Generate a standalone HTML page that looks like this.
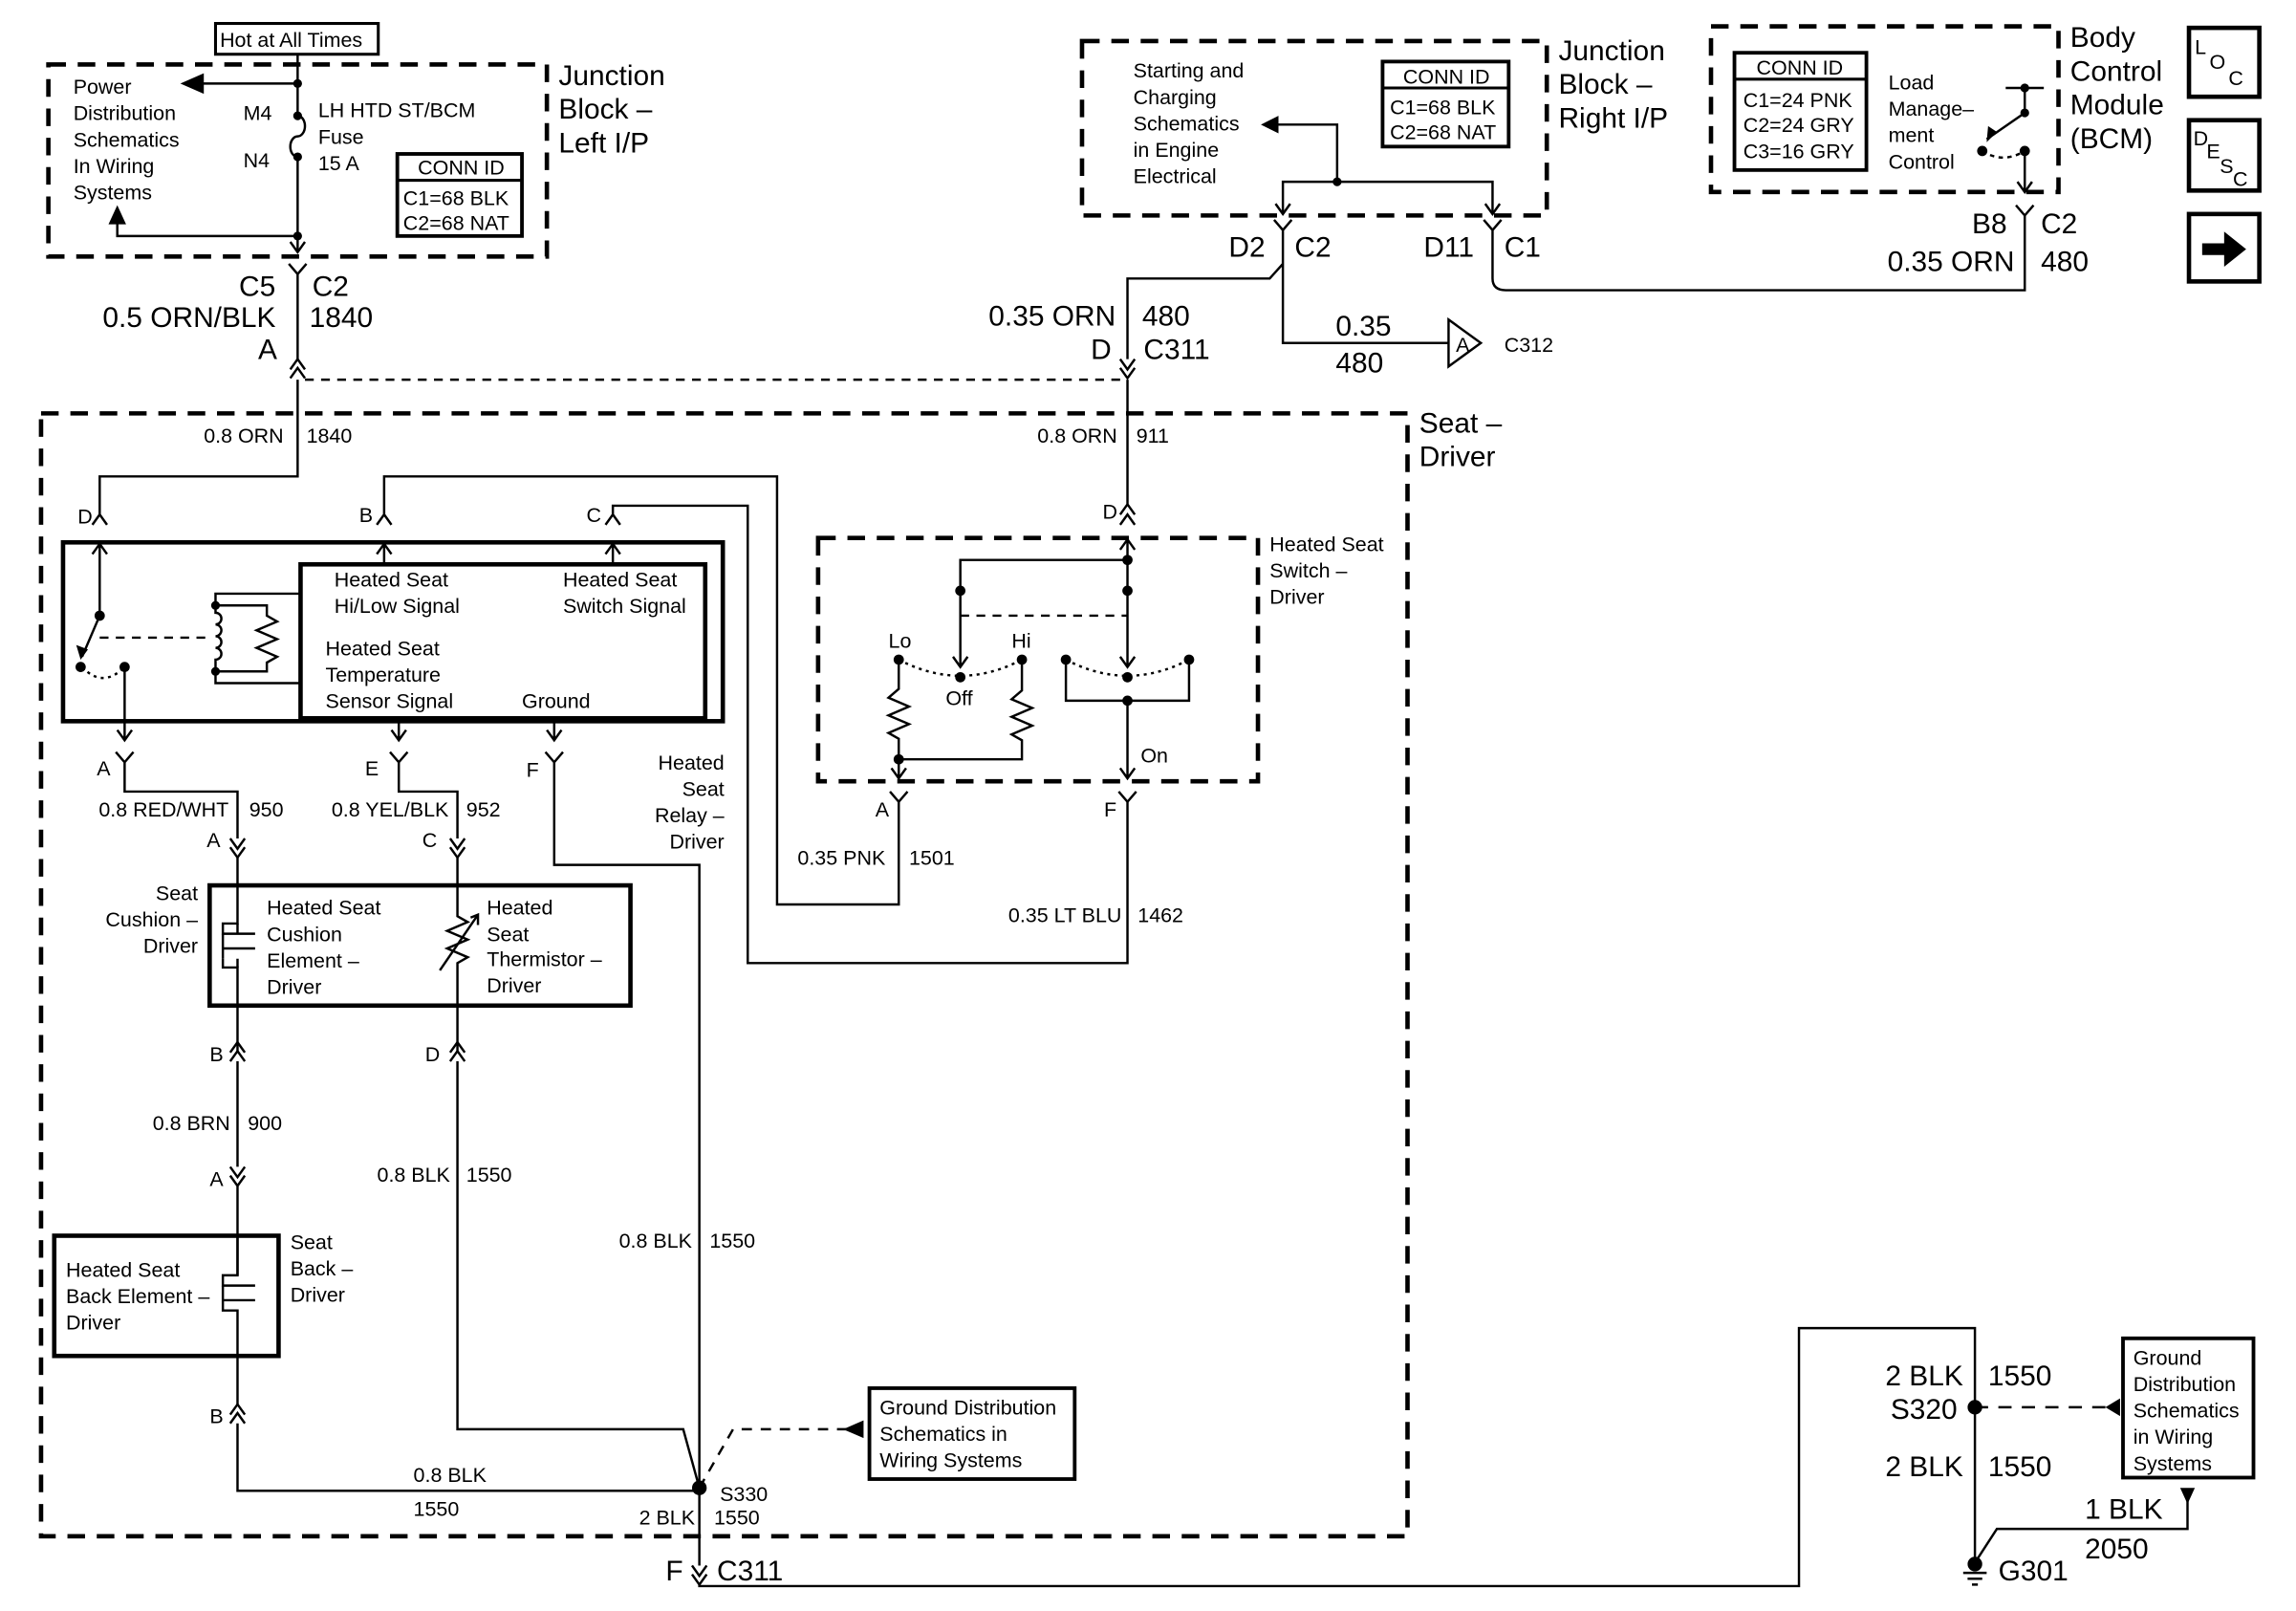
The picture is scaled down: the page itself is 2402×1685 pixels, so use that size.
<!DOCTYPE html>
<html><head><meta charset="utf-8"><style>
html,body{margin:0;padding:0;background:#fff;}
svg{display:block;}
text{font-family:"Liberation Sans Narrow","Liberation Sans",sans-serif;fill:#000;}
.s{font-size:14px;}
.m{font-size:15px;}
.l{font-size:19.5px;}
</style></head><body>
<svg width="2402" height="1685" viewBox="0 0 1566 1099" preserveAspectRatio="none" xmlns="http://www.w3.org/2000/svg">
<rect width="1566" height="1099" fill="#fff"/>
<g fill="none" stroke="#000" stroke-width="1.6">
<rect x="147" y="16" width="111" height="21" stroke-width="2"/>
<rect x="33" y="44" width="340" height="131" stroke-width="3" stroke-dasharray="12,8"/>
<path d="M203 37 V79 M203 79 a5 7 0 0 1 0 14 a5 7 0 0 0 0 14 V172"/>
<path d="M203 57 H133"/>
<path d="M203 161 H80 V146"/>
<path d="M198 165 L203 172 L208 165"/>
<path d="M197 180 L203 187 L209 180 M203 187 V246"/>
<path d="M198 252 L203 245 L208 252 M198 258 L203 251 L208 258"/>
<rect x="271" y="105" width="85" height="56" stroke-width="2.5"/>
<path d="M271 123 H356" stroke-width="2"/>
<path d="M208 259 H766" stroke-dasharray="6,5"/>
<rect x="28" y="282" width="932" height="766" stroke-width="3" stroke-dasharray="12,8"/>
<path d="M203 259 V325 H68 V351"/>
<path d="M63 358 L68 351 L73 358"/>
<rect x="43" y="370" width="450" height="122" stroke-width="3"/>
<path d="M63 378 L68 371 L73 378 M68 371 V420"/>
<path d="M68 420 L56 448"/>
<path d="M68 435 H145" stroke-dasharray="6,5"/>
<path d="M56 455 Q70 470 85 455" stroke-dasharray="2,3"/>
<path d="M85 455 V505 M80 498 L85 505 L90 498"/>
<path d="M205 405 H147 V413 M147 458 V466 H205"/>
<path d="M147 413 H182 V420 l7 4 -14 6 14 6 -14 6 14 6 -7 4 V458 H147"/>
<path d="M147 413 V418 a4 4 0 0 1 0 8 a4 4 0 0 1 0 8 a4 4 0 0 1 0 8 a4 4 0 0 1 0 8 V458"/>
<rect x="205" y="385" width="276" height="105" stroke-width="3"/>
<path d="M262 385 V371 M257 378 L262 371 L267 378"/>
<path d="M257 358 L262 351 L267 358 M262 351 V325 H530 V617 H613 V547"/>
<path d="M418 385 V371 M413 378 L418 371 L423 378"/>
<path d="M413 358 L418 351 L423 358 M418 351 V345 H510 V657 H769 V547"/>
<path d="M272 490 V505 M267 498 L272 505 L277 498"/>
<path d="M378 490 V505 M373 498 L378 505 L383 498"/>
<path d="M79 513 L85 520 L91 513 M85 520 V540 H162 V572"/>
<path d="M266 513 L272 520 L278 513 M272 520 V540 H312 V572"/>
<path d="M372 513 L378 520 L384 513 M378 520 V590 H477 V1068"/>
<path d="M157 572 L162 579 L167 572 M157 578 L162 585 L167 578"/>
<path d="M307 572 L312 579 L317 572 M307 578 L312 585 L317 578"/>
<rect x="143" y="604" width="287" height="82" stroke-width="3"/>
<path d="M162 585 V630 H152 V637 H174 M152 647 H174 M152 654 V660 H162 V718"/>
<path d="M162 630 V637 M162 654 V660"/>
<path d="M152 637 V654" />
<path d="M312 585 V625 l7 4 -14 6 14 6 -14 6 14 6 -7 4 V718 M300 662 L326 624 M321 626 L326 624 L326 631"/>
<path d="M157 718 L162 711 L167 718 M157 724 L162 717 L167 724 M162 724 V796"/>
<path d="M157 796 L162 803 L167 796 M157 802 L162 809 L167 802 M162 809 V870"/>
<path d="M307 718 L312 711 L317 718 M307 724 L312 717 L317 724 M312 724 V975 H466 L477 1015"/>
<rect x="37" y="843" width="153" height="82" stroke-width="3"/>
<path d="M162 843 V870 H152 V877 H174 M152 887 H174 M152 887 V894 H162 V958"/>
<path d="M152 877 V887"/>
<path d="M157 965 L162 958 L167 965 M157 971 L162 964 L167 971 M162 971 V1017 H477"/>
<path d="M477 1015 L500 975 H580" stroke-dasharray="7,6"/>
<rect x="593" y="947" width="140" height="62" stroke-width="2.5"/>
<path d="M472 1068 L477 1075 L482 1068 M472 1074 L477 1081 L482 1074"/>
<path d="M477 1081 V1082 H1227 V906 H1347 V1070"/>
<path d="M1347 960 H1436" stroke-dasharray="9,7"/>
<rect x="1448" y="913" width="89" height="95" stroke-width="2.5"/>
<path d="M1492 1022 V1043 H1362 L1349 1063"/>
<path d="M1339 1073 H1355 M1342 1077 H1352 M1345 1081 H1349"/>
<path d="M769 259 V344 M764 351 L769 344 L774 351"/>
<path d="M764 358 L769 351 L774 358"/>
<rect x="558" y="367" width="300" height="166" stroke-width="3" stroke-dasharray="12,8"/>
<path d="M764 375 L769 368 L774 375 M769 368 V455 M764 448 L769 455 L774 448"/>
<path d="M769 382 H655 V455 M650 448 L655 455 L660 448"/>
<path d="M655 420 H769" stroke-dasharray="6,5"/>
<path d="M613 450 Q655 472 697 450" stroke-dasharray="2,3"/>
<path d="M727 450 Q769 472 811 450" stroke-dasharray="2,3"/>
<path d="M613 450 V470 l-7 6 14 6 -14 6 14 6 -14 6 7 4 V518 H697 V505 l-7 -4 14 -6 -14 -6 14 -6 -14 -6 7 -6 V450"/>
<path d="M613 518 V531 M608 524 L613 531 L618 524"/>
<path d="M727 450 V478 H811 V450 M769 478 V531 M764 524 L769 531 L774 524"/>
<path d="M607 540 L613 547 L619 540 M763 540 L769 547 L775 540"/>
<rect x="738" y="28" width="317" height="119" stroke-width="3" stroke-dasharray="12,8"/>
<rect x="943" y="42" width="86" height="58" stroke-width="2.5"/>
<path d="M943 60 H1029" stroke-width="2"/>
<path d="M870 85 H912 V124 M875 145 V124 H1018 V145"/>
<path d="M870 139 L875 146 L880 139 M1013 139 L1018 146 L1023 139"/>
<path d="M869 150 L875 157 L881 150 M875 157 V234 H988 M875 180 L866 190 H769 V245"/>
<path d="M1012 150 L1018 157 L1024 150 M1018 157 V190 Q1018 198 1027 198 H1381 V147"/>
<path d="M764 245 L769 252 L774 245 M764 251 L769 258 L774 251"/>
<path d="M988 218 L1010 234 L988 250 Z"/>
<rect x="1167" y="18" width="237" height="113" stroke-width="3" stroke-dasharray="12,8"/>
<rect x="1183" y="36" width="90" height="80" stroke-width="2.5"/>
<path d="M1183 54 H1273" stroke-width="2"/>
<path d="M1368 60 H1394 M1381 60 V77 L1355 95"/>
<path d="M1352 103 Q1366 112 1381 103" stroke-dasharray="3,3"/>
<path d="M1381 103 V131 M1376 124 L1381 131 L1386 124"/>
<path d="M1375 140 L1381 147 L1387 140"/>
<rect x="1493" y="19" width="48" height="47" stroke-width="3"/>
<rect x="1493" y="82" width="48" height="48" stroke-width="3"/>
<rect x="1493" y="146" width="48" height="46" stroke-width="3"/>
</g>
<g fill="#000">
<path d="M123 57 L139 50 L139 64 Z"/>
<path d="M80 140 L74 153 L86 153 Z"/>
<circle cx="203" cy="57" r="3"/><circle cx="203" cy="79" r="3"/><circle cx="203" cy="107" r="3"/><circle cx="203" cy="161" r="3"/>
<circle cx="68" cy="420" r="3.5"/><circle cx="55" cy="455" r="3.5"/><circle cx="85" cy="455" r="3.5"/>
<path d="M55 450 L52 440 L60 443 Z"/>
<circle cx="147" cy="413" r="3"/><circle cx="147" cy="458" r="3"/>
<circle cx="477" cy="1015" r="5"/>
<path d="M575 975 L589 969 L589 981 Z"/>
<circle cx="1347" cy="960" r="5"/>
<path d="M1436 960 L1446 954 L1446 966 Z"/>
<path d="M1487 1015 L1497 1015 L1492 1026 Z"/>
<circle cx="1347" cy="1067" r="5"/>
<circle cx="769" cy="382" r="3.5"/><circle cx="655" cy="403" r="3.5"/><circle cx="769" cy="403" r="3.5"/>
<circle cx="613" cy="450" r="3.5"/><circle cx="697" cy="450" r="3.5"/><circle cx="655" cy="462" r="3.5"/>
<circle cx="727" cy="450" r="3.5"/><circle cx="811" cy="450" r="3.5"/><circle cx="769" cy="462" r="3.5"/><circle cx="769" cy="478" r="3.5"/><circle cx="613" cy="518" r="3.5"/>
<circle cx="912" cy="124" r="3"/>
<path d="M860 85 L872 79 L872 91 Z"/>
<circle cx="1381" cy="60" r="3"/><circle cx="1381" cy="77" r="3"/><circle cx="1352" cy="103" r="3.5"/><circle cx="1381" cy="103" r="3.5"/>
<path d="M1355 97 L1356 86 L1362 90 Z"/>
<path d="M1502 166 H1517 V158 L1532 170 L1517 182 V174 H1502 Z"/>
</g>
<text class="s" x="150" y="32">Hot at All Times</text>
<text class="s" x="50" y="64">Power</text><text class="s" x="50" y="82">Distribution</text><text class="s" x="50" y="100">Schematics</text><text class="s" x="50" y="118">In Wiring</text><text class="s" x="50" y="136">Systems</text>
<text class="s" x="166" y="82">M4</text><text class="s" x="166" y="114">N4</text>
<text class="s" x="217" y="80">LH HTD ST/BCM</text><text class="s" x="217" y="98">Fuse</text><text class="s" x="217" y="116">15 A</text>
<text class="s" x="285" y="119">CONN ID</text><text class="s" x="275" y="140">C1=68 BLK</text><text class="s" x="275" y="157">C2=68 NAT</text>
<text class="l" x="381" y="58">Junction</text><text class="l" x="381" y="81">Block –</text><text class="l" x="381" y="104">Left I/P</text>
<text class="l" x="163" y="202">C5</text><text class="l" x="213" y="202">C2</text>
<text class="l" x="70" y="223">0.5 ORN/BLK</text><text class="l" x="211" y="223">1840</text>
<text class="l" x="176" y="245">A</text>
<text class="s" x="139" y="302">0.8 ORN</text><text class="s" x="209" y="302">1840</text>
<text class="l" x="968" y="295">Seat –</text><text class="l" x="968" y="318">Driver</text>
<text class="s" x="53" y="357">D</text><text class="s" x="245" y="356">B</text><text class="s" x="400" y="356">C</text>
<text class="s" x="228" y="400">Heated Seat</text><text class="s" x="228" y="418">Hi/Low Signal</text>
<text class="s" x="384" y="400">Heated Seat</text><text class="s" x="384" y="418">Switch Signal</text>
<text class="s" x="222" y="447">Heated Seat</text><text class="s" x="222" y="465">Temperature</text><text class="s" x="222" y="483">Sensor Signal</text>
<text class="s" x="356" y="483">Ground</text>
<text class="s" x="66" y="529">A</text><text class="s" x="249" y="529">E</text><text class="s" x="359" y="530">F</text>
<text class="s" x="494" y="525" text-anchor="end">Heated</text><text class="s" x="494" y="543" text-anchor="end">Seat</text><text class="s" x="494" y="561" text-anchor="end">Relay –</text><text class="s" x="494" y="579" text-anchor="end">Driver</text>
<text class="s" x="156" y="557" text-anchor="end">0.8 RED/WHT</text><text class="s" x="170" y="557">950</text>
<text class="s" x="306" y="557" text-anchor="end">0.8 YEL/BLK</text><text class="s" x="318" y="557">952</text>
<text class="s" x="141" y="578">A</text><text class="s" x="288" y="578">C</text>
<text class="s" x="135" y="614" text-anchor="end">Seat</text><text class="s" x="135" y="632" text-anchor="end">Cushion –</text><text class="s" x="135" y="650" text-anchor="end">Driver</text>
<text class="s" x="182" y="624">Heated Seat</text><text class="s" x="182" y="642">Cushion</text><text class="s" x="182" y="660">Element –</text><text class="s" x="182" y="678">Driver</text>
<text class="s" x="332" y="624">Heated</text><text class="s" x="332" y="642">Seat</text><text class="s" x="332" y="659">Thermistor –</text><text class="s" x="332" y="677">Driver</text>
<text class="s" x="143" y="724">B</text><text class="s" x="290" y="724">D</text>
<text class="s" x="157" y="771" text-anchor="end">0.8 BRN</text><text class="s" x="169" y="771">900</text>
<text class="s" x="143" y="809">A</text>
<text class="s" x="307" y="806" text-anchor="end">0.8 BLK</text><text class="s" x="318" y="806">1550</text>
<text class="s" x="472" y="851" text-anchor="end">0.8 BLK</text><text class="s" x="484" y="851">1550</text>
<text class="s" x="45" y="871">Heated Seat</text><text class="s" x="45" y="889">Back Element –</text><text class="s" x="45" y="907">Driver</text>
<text class="s" x="198" y="852">Seat</text><text class="s" x="198" y="870">Back –</text><text class="s" x="198" y="888">Driver</text>
<text class="s" x="143" y="971">B</text>
<text class="s" x="282" y="1011">0.8 BLK</text><text class="s" x="282" y="1034">1550</text>
<text class="s" x="600" y="965">Ground Distribution</text><text class="s" x="600" y="983">Schematics in</text><text class="s" x="600" y="1001">Wiring Systems</text>
<text class="s" x="491" y="1024">S330</text>
<text class="s" x="474" y="1040" text-anchor="end">2 BLK</text><text class="s" x="487" y="1040">1550</text>
<text class="l" x="454" y="1078">F</text><text class="l" x="489" y="1078">C311</text>
<text class="l" x="1339" y="945" text-anchor="end">2 BLK</text><text class="l" x="1356" y="945">1550</text>
<text class="l" x="1335" y="968" text-anchor="end">S320</text>
<text class="l" x="1339" y="1007" text-anchor="end">2 BLK</text><text class="l" x="1356" y="1007">1550</text>
<text class="s" x="1455" y="931">Ground</text><text class="s" x="1455" y="949">Distribution</text><text class="s" x="1455" y="967">Schematics</text><text class="s" x="1455" y="985">in Wiring</text><text class="s" x="1455" y="1003">Systems</text>
<text class="l" x="1422" y="1036">1 BLK</text><text class="l" x="1422" y="1063">2050</text>
<text class="l" x="1363" y="1078">G301</text>
<text class="s" x="762" y="302" text-anchor="end">0.8 ORN</text><text class="s" x="775" y="302">911</text>
<text class="s" x="752" y="354">D</text>
<text class="s" x="866" y="376">Heated Seat</text><text class="s" x="866" y="394">Switch –</text><text class="s" x="866" y="412">Driver</text>
<text class="s" x="606" y="442">Lo</text><text class="s" x="690" y="442">Hi</text><text class="s" x="645" y="481">Off</text><text class="s" x="778" y="520">On</text>
<text class="s" x="597" y="557">A</text><text class="s" x="753" y="557">F</text>
<text class="s" x="544" y="590">0.35 PNK</text><text class="s" x="620" y="590">1501</text>
<text class="s" x="765" y="629" text-anchor="end">0.35 LT BLU</text><text class="s" x="776" y="629">1462</text>
<text class="s" x="773" y="53">Starting and</text><text class="s" x="773" y="71">Charging</text><text class="s" x="773" y="89">Schematics</text><text class="s" x="773" y="107">in Engine</text><text class="s" x="773" y="125">Electrical</text>
<text class="s" x="957" y="57">CONN ID</text><text class="s" x="948" y="78">C1=68 BLK</text><text class="s" x="948" y="95">C2=68 NAT</text>
<text class="l" x="1063" y="41">Junction</text><text class="l" x="1063" y="64">Block –</text><text class="l" x="1063" y="87">Right I/P</text>
<text class="l" x="838" y="175">D2</text><text class="l" x="883" y="175">C2</text>
<text class="l" x="971" y="175">D11</text><text class="l" x="1026" y="175">C1</text>
<text class="l" x="761" y="222" text-anchor="end">0.35 ORN</text><text class="l" x="779" y="222">480</text>
<text class="l" x="744" y="245">D</text><text class="l" x="780" y="245">C311</text>
<text class="l" x="911" y="229">0.35</text><text class="l" x="911" y="254">480</text>
<text class="s" x="993" y="240">A</text><text class="s" x="1026" y="240">C312</text>
<text class="s" x="1198" y="51">CONN ID</text>
<text class="s" x="1189" y="73">C1=24 PNK</text><text class="s" x="1189" y="90">C2=24 GRY</text><text class="s" x="1189" y="108">C3=16 GRY</text>
<text class="s" x="1288" y="61">Load</text><text class="s" x="1288" y="79">Manage–</text><text class="s" x="1288" y="97">ment</text><text class="s" x="1288" y="115">Control</text>
<text class="l" x="1412" y="32">Body</text><text class="l" x="1412" y="55">Control</text><text class="l" x="1412" y="78">Module</text><text class="l" x="1412" y="101">(BCM)</text>
<text class="l" x="1345" y="159">B8</text><text class="l" x="1392" y="159">C2</text>
<text class="l" x="1374" y="185" text-anchor="end">0.35 ORN</text><text class="l" x="1392" y="185">480</text>
<text class="s" x="1497" y="37">L</text><text class="s" x="1507" y="47">O</text><text class="s" x="1520" y="58">C</text>
<text class="s" x="1496" y="99">D</text><text class="s" x="1505" y="108">E</text><text class="s" x="1514" y="118">S</text><text class="s" x="1523" y="127">C</text>
</svg>
</body></html>
